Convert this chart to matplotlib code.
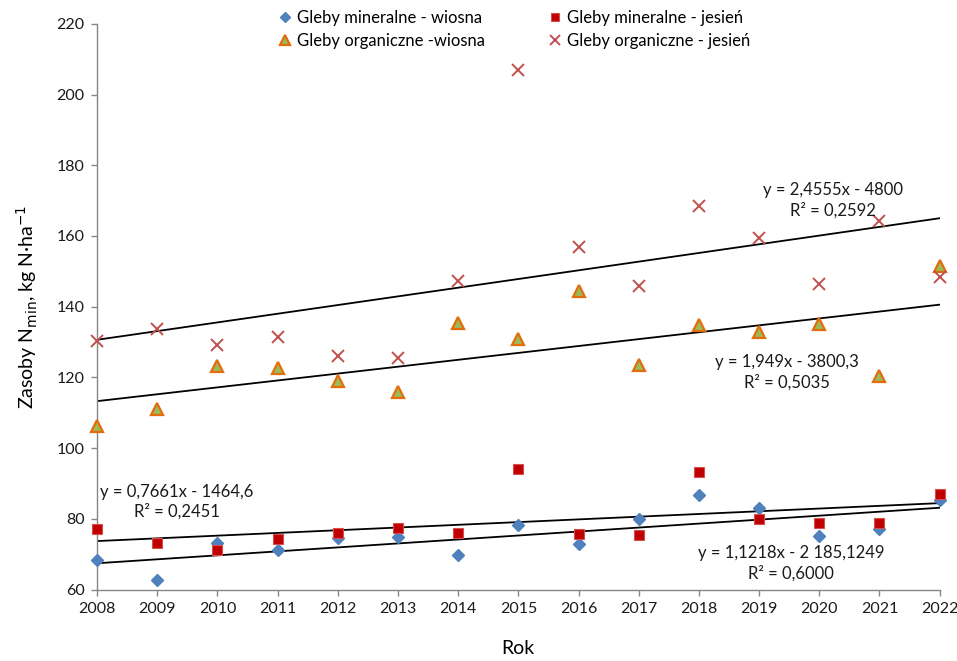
import numpy as np
import matplotlib.pyplot as plt

plt.rcParams['font.family'] = ['Lato', 'DejaVu Sans']

# Dane
lata = np.arange(2008, 2023)
min_wiosna = [68.3, 62.7, 73.2, 71.1, 74.7, 74.8, 69.9, 78.2, 73.0, 80.0, 86.7, 83.1, 75.2, 77.2, 85.3]
min_jesien = [77.2, 73.2, 71.2, 74.3, 76.0, 77.5, 76.0, 94.0, 75.6, 75.5, 93.3, 80.1, 78.8, 78.8, 87.1]
org_wiosna = [106.2, 111.1, 123.1, 122.8, 118.9, 115.8, 135.3, 130.9, 144.3, 123.4, 134.8, 132.8, 135.2, 120.4, 151.5]
org_jesien = [130.2, 133.7, 129.2, 131.4, 126.0, 125.6, 147.3, 206.9, 156.9, 145.8, 168.6, 159.5, 146.4, 164.3, 148.5]

# Linie trendu (a, b, R2)
trend_org_jesien = (2.4555, -4800, 0.2592)
trend_org_wiosna = (1.949, -3800.3, 0.5035)
trend_min_jesien = (0.7661, -1464.6, 0.2451)
trend_min_wiosna = (1.1218, -2185.1249, 0.6000)

fig = plt.figure(figsize=(9.57, 6.61), dpi=100)
ax = fig.add_axes([0.1014, 0.108, 0.8805, 0.856])

ax.plot(lata, min_wiosna, 'D', color='#4F81BD', ms=6.5, mec='#4F81BD',
        label='Gleby mineralne - wiosna', zorder=3, clip_on=False)
ax.plot(lata, org_wiosna, '^', color='#9BBB59', ms=8, mec='#E46C0A', mew=1.6,
        label='Gleby organiczne -wiosna', zorder=3, clip_on=False)
ax.plot(lata, min_jesien, 's', color='#C00000', ms=7, mec='#D45050', mew=0.8,
        label='Gleby mineralne - jesień', zorder=3, clip_on=False)
ax.plot(lata, org_jesien, 'x', color='#C0504D', ms=8, mew=1.4,
        label='Gleby organiczne - jesień', zorder=3, clip_on=False)

x_tr = np.array([2008, 2022])
for a, b, _ in [trend_org_jesien, trend_org_wiosna, trend_min_jesien, trend_min_wiosna]:
    ax.plot(x_tr, a * x_tr + b, color='black', lw=1.3, zorder=2)

def fmt(v, n):
    return f'{v:.{n}f}'.replace('.', ',')

opis = dict(ha='center', va='center', fontsize=12, linespacing=1.3, color='#1a1a1a')
ax.text(2020.23, 170.1, f'y = {fmt(trend_org_jesien[0], 4)}x - 4800\nR² = {fmt(trend_org_jesien[2], 4)}', **opis)
ax.text(2019.46, 121.4, f'y = {fmt(trend_org_wiosna[0], 3)}x - 3800,3\nR² = {fmt(trend_org_wiosna[2], 4)}', **opis)
ax.text(2009.33, 84.8, f'y = {fmt(trend_min_jesien[0], 4)}x - 1464,6\nR² = {fmt(trend_min_jesien[2], 4)}', **opis)
ax.text(2019.53, 67.4, f'y = {fmt(trend_min_wiosna[0], 4)}x - 2 185,1249\nR² = {fmt(trend_min_wiosna[2], 4)}', **opis)

ax.set_xlim(2008, 2022)
ax.set_ylim(60, 220)
ax.set_xticks(lata)
ax.set_yticks(np.arange(60, 221, 20))
ax.tick_params(direction='out', length=4, width=1, color='#868686',
               labelsize=11.5, labelcolor='#1a1a1a', pad=5)
for s in ['top', 'right']:
    ax.spines[s].set_visible(False)
for s in ['left', 'bottom']:
    ax.spines[s].set_color('#868686')
    ax.spines[s].set_linewidth(1)

ax.set_xlabel('Rok', fontsize=14, labelpad=17)
ax.set_ylabel('Zasoby N$_{\\mathrm{min}}$, kg N·ha$^{-1}$', fontsize=14, labelpad=12)

handles, labels = ax.get_legend_handles_labels()
fig.legend(handles, labels, ncol=2, loc='upper left', bbox_to_anchor=(0.272, 1.008),
           frameon=False, fontsize=12, handletextpad=0.1, handlelength=1.2,
           columnspacing=3.6, labelspacing=0.45, markerscale=0.85)

fig.savefig('out.png', dpi=100)
